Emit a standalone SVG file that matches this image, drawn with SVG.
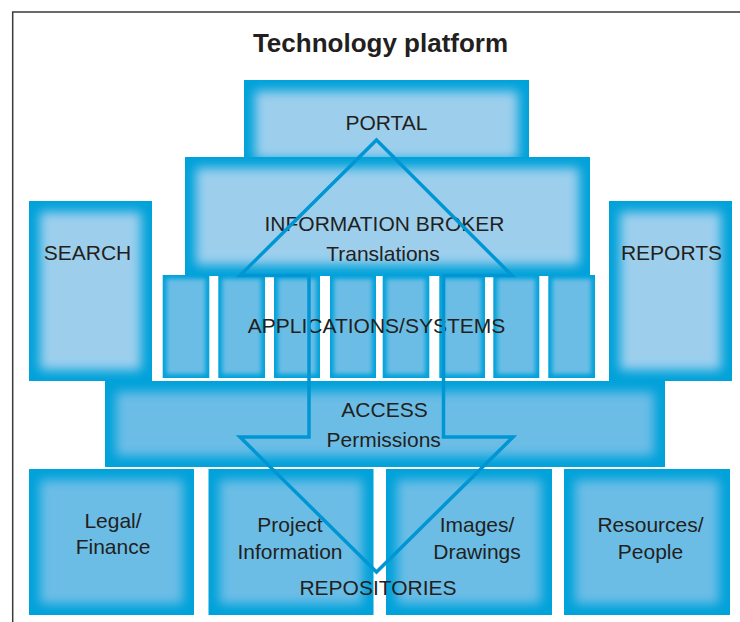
<svg xmlns="http://www.w3.org/2000/svg" width="740" height="622" viewBox="0 0 740 622">
<style>
  .lt{fill:#9dcfed}
  .dk{fill:#6bbde6}
  .big{filter:url(#bvBig)}
  .sm{filter:url(#bvSm)}
  text{font-family:"Liberation Sans",Arial,Helvetica,sans-serif;font-size:21px;fill:#231f20;text-anchor:middle}
  .title{font-size:26px;font-weight:bold}
  .frame{fill:none;stroke:#3a3a3a;stroke-width:1.5}
  .arrow{fill:none;stroke:#0096d3;stroke-width:3.5;stroke-linejoin:miter}
</style>
<defs>
  <filter id="bvBig" x="0" y="0" width="1" height="1" color-interpolation-filters="sRGB">
    <feMorphology in="SourceAlpha" operator="erode" radius="11" result="e"/>
    <feGaussianBlur in="e" stdDeviation="5.5" result="m"/>
    <feFlood flood-color="#00a2da" result="o"/>
    <feComposite in="o" in2="SourceAlpha" operator="in" result="oc"/>
    <feComposite in="SourceGraphic" in2="m" operator="in" result="ic"/>
    <feMerge><feMergeNode in="oc"/><feMergeNode in="ic"/></feMerge>
  </filter>
  <filter id="bvSm" x="0" y="0" width="1" height="1" color-interpolation-filters="sRGB">
    <feMorphology in="SourceAlpha" operator="erode" radius="4" result="e"/>
    <feGaussianBlur in="e" stdDeviation="2" result="m"/>
    <feFlood flood-color="#00a2da" result="o"/>
    <feComposite in="o" in2="SourceAlpha" operator="in" result="oc"/>
    <feComposite in="SourceGraphic" in2="m" operator="in" result="ic"/>
    <feMerge><feMergeNode in="oc"/><feMergeNode in="ic"/></feMerge>
  </filter>
</defs>
<rect width="740" height="622" fill="#ffffff"/>
<path class="frame" d="M12.7,622 V12 H740"/>
<text class="title" x="380.5" y="52">Technology platform</text>

<g id="portal">
  <rect class="lt big" x="244" y="80" width="285" height="90"/>
  <text x="386.5" y="130">PORTAL</text>
</g>
<g id="information-broker">
  <rect class="lt big" x="185" y="157" width="405" height="119"/>
  <text x="384.5" y="231">INFORMATION BROKER</text>
  <text x="383" y="261">Translations</text>
</g>
<g id="search">
  <rect class="lt big" x="29" y="201" width="123" height="180"/>
  <text x="87.5" y="260">SEARCH</text>
</g>
<g id="reports">
  <rect class="lt big" x="609" y="201" width="123" height="180"/>
  <text x="671.5" y="260">REPORTS</text>
</g>
<g id="applications-systems">
  <rect class="dk sm" x="162.7" y="275" width="46.6" height="103"/>
  <rect class="dk sm" x="218.3" y="275" width="46.7" height="103"/>
  <rect class="dk sm" x="274" y="275" width="46" height="103"/>
  <rect class="dk sm" x="330" y="275" width="46" height="103"/>
  <rect class="dk sm" x="382.7" y="275" width="46.6" height="103"/>
  <rect class="dk sm" x="439.3" y="275" width="45.7" height="103"/>
  <rect class="dk sm" x="493.3" y="275" width="46" height="103"/>
  <rect class="dk sm" x="548.3" y="275" width="46.7" height="103"/>
  <text x="376.5" y="333">APPLICATIONS/SYSTEMS</text>
</g>
<g id="access">
  <rect class="dk big" x="105" y="381" width="560" height="86"/>
  <text x="384.5" y="416.5">ACCESS</text>
  <text x="383.7" y="446.5">Permissions</text>
</g>
<g id="legal-finance">
  <rect class="dk big" x="29" y="469" width="165" height="146"/>
  <text x="113" y="527.5">Legal/</text>
  <text x="113" y="554">Finance</text>
</g>
<g id="project-information">
  <rect class="dk big" x="208.5" y="469" width="165" height="146"/>
  <text x="290" y="531.5">Project</text>
  <text x="290" y="558.5">Information</text>
</g>
<g id="images-drawings">
  <rect class="dk big" x="386" y="469" width="166" height="146"/>
  <text x="477" y="532">Images/</text>
  <text x="477" y="558.5">Drawings</text>
</g>
<g id="resources-people">
  <rect class="dk big" x="564" y="469" width="166" height="146"/>
  <text x="650.5" y="532">Resources/</text>
  <text x="650.5" y="558.5">People</text>
</g>

<g id="connectors">
  <path class="arrow" d="M376.5,140 L512,275.5 L443.5,275.5 L443.5,437 L513,437 L376.5,572 L240,437 L309,437 L309,275.5 L240,275.5 Z"/>
</g>
<g id="repositories-label">
  <text x="378" y="594.5">REPOSITORIES</text>
</g>
</svg>
